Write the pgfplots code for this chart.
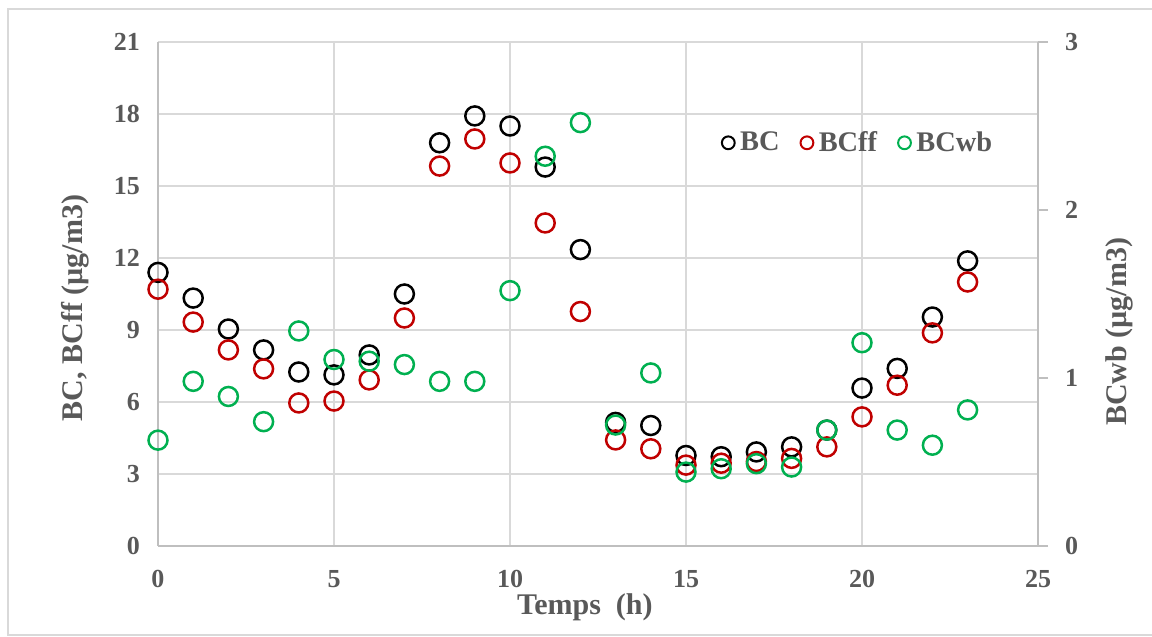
\documentclass[border=0pt]{standalone}
\usepackage{pgfplots}
\pgfplotsset{compat=1.18}
\usepackage{fontspec}
\setmainfont{Liberation Serif}
\definecolor{txt}{HTML}{595959}
\definecolor{grd}{HTML}{D9D9D9}
\definecolor{axl}{HTML}{BFBFBF}
\definecolor{bcred}{HTML}{C00000}
\definecolor{bcgreen}{HTML}{00B050}

\pgfplotstableread{
h BC BCff BCwb
0 11.40 10.70 0.63
1 10.33 9.33 0.98
2 9.04 8.17 0.89
3 8.17 7.38 0.74
4 7.25 5.96 1.28
5 7.13 6.04 1.11
6 7.96 6.92 1.10
7 10.50 9.50 1.08
8 16.80 15.83 0.98
9 17.92 16.96 0.98
10 17.50 15.96 1.52
11 15.79 13.46 2.32
12 12.35 9.77 2.52
13 5.15 4.42 0.72
14 5.02 4.05 1.03
15 3.77 3.37 0.44
16 3.72 3.45 0.46
17 3.92 3.52 0.49
18 4.13 3.65 0.47
19 4.83 4.13 0.69
20 6.58 5.38 1.21
21 7.40 6.70 0.69
22 9.54 8.88 0.60
23 11.88 11.00 0.81
}\datatable

\pgfplotsset{common/.style={
  scale only axis, width=440pt, height=252pt,
  at={(79pt,45.5pt)}, anchor=south west,
  xmin=0, xmax=25,
  /pgf/number format/assume math mode=true,
  tick label style={font=\fontsize{13}{15}\selectfont\bfseries, text=txt},
  label style={font=\fontsize{15}{17}\selectfont\bfseries, text=txt},
}}

\begin{document}
\begin{tikzpicture}[x=1pt,y=1pt]
\path[use as bounding box] (0,0) rectangle (576,318.5);
\draw[grd, line width=0.6pt] (577,314) -- (4,314) -- (4,1) -- (577,1);

\begin{axis}[common,
  ymin=0, ymax=21, ytick={0,3,...,21}, xtick={0,5,...,25},
  grid=major, grid style={grd, line width=0.6pt},
  axis x line*=bottom, axis y line*=left,
  axis line style={axl, line width=0.7pt, -},
  major tick length=0pt,
  xticklabel style={yshift=-8.5pt},
  yticklabel style={xshift=-5.5pt},
  xlabel={Temps\ \ (h)}, ylabel={BC, BCff (µg/m3)},
  xlabel style={at={(axis description cs:0.485,-0.121)}, anchor=center},
  ylabel style={at={(axis description cs:-0.094,0.472)}, anchor=center},
]
\addplot[only marks, mark=o, mark size=4.75pt, mark options={line width=1.25pt, draw=black}] table[x=h, y=BC] {\datatable};
\addplot[only marks, mark=o, mark size=4.75pt, mark options={line width=1.25pt, draw=bcred}] table[x=h, y=BCff] {\datatable};
\end{axis}

\begin{axis}[common,
  ymin=0, ymax=3, ytick={0,1,2,3},
  axis x line=none, axis y line*=right,
  axis line style={axl, line width=0.7pt, -},
  tick align=outside, major tick length=5pt,
  tick style={axl, line width=0.7pt},
  yticklabel style={xshift=5pt},
  ylabel={BCwb (µg/m3)},
  ylabel style={at={(axis description cs:1.093,0.425)}, anchor=center},
  legend columns=3,
  legend style={draw=none, fill=none, at={(0.796,0.80)}, anchor=center,
    font=\fontsize{14.2}{16}\selectfont\bfseries, text=txt,
    /tikz/every even column/.append style={column sep=8pt}},
  legend image code/.code={\draw[#1] plot coordinates {(0pt,0pt)}; \path[draw=none,fill=none] (-3.7pt,-0.05pt) rectangle (3.9pt,0.05pt);},
]
\addplot[forget plot, only marks, mark=o, mark size=4.75pt, mark options={line width=1.25pt, draw=bcgreen}] table[x=h, y=BCwb] {\datatable};
\addlegendimage{only marks, mark=o, mark size=3.2pt, mark options={line width=1pt, draw=black}}
\addlegendentry{BC}
\addlegendimage{only marks, mark=o, mark size=3.2pt, mark options={line width=1pt, draw=bcred}}
\addlegendentry{BCff}
\addlegendimage{only marks, mark=o, mark size=3.2pt, mark options={line width=1pt, draw=bcgreen}}
\addlegendentry{BCwb}
\end{axis}
\end{tikzpicture}
\end{document}
